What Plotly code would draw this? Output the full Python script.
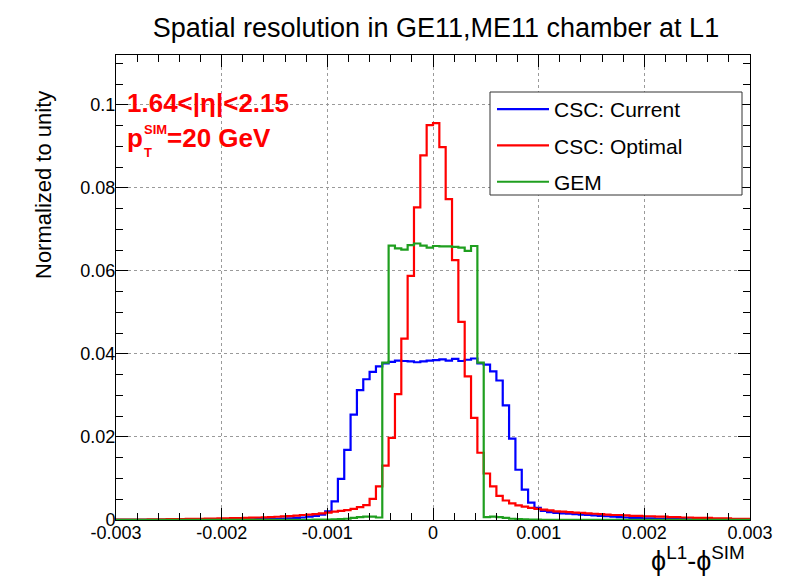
import numpy as np
import plotly.graph_objects as go

# ---------------- data ----------------
x_min, x_max, n_bins = -0.003, 0.003, 100
bin_edges = np.linspace(x_min, x_max, n_bins + 1)

series_names = ["CSC: Current", "CSC: Optimal", "GEM"]

csc_current = [
    0.00002, 0.00002, 0.00002, 0.00003, 0.00003, 0.00003, 0.00004, 0.00004, 0.00005, 0.00005,
    0.00006, 0.00006, 0.00007, 0.00008, 0.00009, 0.0001, 0.0001, 0.00011, 0.00012, 0.00013,
    0.00015, 0.00017, 0.0002, 0.00022, 0.00025, 0.0003, 0.00035, 0.0004, 0.0005, 0.0006,
    0.0008, 0.001, 0.0013, 0.0021, 0.0045, 0.0099, 0.0169, 0.0254, 0.0313, 0.0339,
    0.0357, 0.0370, 0.0377, 0.0381, 0.0384, 0.0383, 0.0382, 0.0380, 0.0382, 0.0384,
    0.0385, 0.0387, 0.0384, 0.0388, 0.0383, 0.0386, 0.0389, 0.0377, 0.0374, 0.0358,
    0.0336, 0.0276, 0.0196, 0.0121, 0.0073, 0.0042, 0.0029, 0.0022, 0.0019, 0.0017,
    0.0016, 0.0015, 0.0014, 0.0013, 0.0012, 0.0011, 0.0010, 0.0009, 0.0008, 0.0007,
    0.0006, 0.0005, 0.0005, 0.0004, 0.0004, 0.0003, 0.0003, 0.00025, 0.0002, 0.0002,
    0.00015, 0.00015, 0.00012, 0.0001, 0.0001, 0.00008, 0.00007, 0.00006, 0.00005, 0.00005,
]

csc_optimal = [
    0.0001, 0.0001, 0.0001, 0.00012, 0.00012, 0.00014, 0.00015, 0.00017, 0.0002, 0.0002,
    0.00022, 0.00025, 0.00027, 0.0003, 0.00032, 0.00035, 0.00038, 0.0004, 0.00043, 0.00047,
    0.0005, 0.00055, 0.0006, 0.00065, 0.0007, 0.00078, 0.00085, 0.00095, 0.00105, 0.0012,
    0.0013, 0.0014, 0.0016, 0.0018, 0.0020, 0.0022, 0.0024, 0.0027, 0.0031, 0.0036,
    0.0051, 0.0081, 0.0131, 0.0198, 0.0303, 0.0437, 0.0588, 0.0753, 0.0878, 0.0951,
    0.0956, 0.0898, 0.0773, 0.0626, 0.0477, 0.0346, 0.0246, 0.0162, 0.0112, 0.0081,
    0.0058, 0.0047, 0.0040, 0.0035, 0.0032, 0.0029, 0.0027, 0.0025, 0.0023, 0.0021,
    0.0020, 0.0019, 0.0018, 0.0017, 0.0016, 0.0015, 0.0014, 0.0013, 0.0012, 0.0012,
    0.0011, 0.0010, 0.0010, 0.0009, 0.0009, 0.0008, 0.0008, 0.0007, 0.0007, 0.0006,
    0.0006, 0.0005, 0.0005, 0.0005, 0.0004, 0.0004, 0.0004, 0.0003, 0.0003, 0.0003,
]

gem = [
    0.00001, 0.00001, 0.00001, 0.00001, 0.00001, 0.00001, 0.00001, 0.00001, 0.00001, 0.00001,
    0.00001, 0.00001, 0.00001, 0.00001, 0.00001, 0.00002, 0.00002, 0.00002, 0.00002, 0.00002,
    0.00002, 0.00002, 0.00003, 0.00003, 0.00003, 0.00003, 0.00004, 0.00004, 0.00004, 0.00005,
    0.00005, 0.00008, 0.0001, 0.00012, 0.00015, 0.0002, 0.0003, 0.0005, 0.0007, 0.0008,
    0.0008, 0.0006, 0.0379, 0.0661, 0.0654, 0.0651, 0.0662, 0.0666, 0.0661, 0.0656,
    0.0660, 0.0659, 0.0659, 0.0658, 0.0656, 0.0648, 0.0660, 0.0379, 0.0007, 0.0008,
    0.0007, 0.0005, 0.0003, 0.0002, 0.00015, 0.0001, 0.00008, 0.00006, 0.00005, 0.00004,
    0.00004, 0.00003, 0.00003, 0.00003, 0.00002, 0.00002, 0.00002, 0.00002, 0.00002, 0.00001,
    0.00001, 0.00001, 0.00001, 0.00001, 0.00001, 0.00001, 0.00001, 0.00001, 0.00001, 0.00001,
    0.00001, 0.00001, 0.00001, 0.00001, 0.00001, 0.00001, 0.00001, 0.00001, 0.00001, 0.00001,
]

x_tick_vals = [-0.003, -0.002, -0.001, 0.0, 0.001, 0.002, 0.003]
x_tick_text = ["-0.003", "-0.002", "-0.001", "0", "0.001", "0.002", "0.003"]
y_tick_vals = [0.0, 0.02, 0.04, 0.06, 0.08, 0.1]
y_tick_text = ["0", "0.02", "0.04", "0.06", "0.08", "0.1"]

title_text = "Spatial resolution in GE11,ME11 chamber at L1"
y_title = "Normalized to unity"
x_title = "\u03d5<sup>L1</sup>-\u03d5<sup>SIM</sup>"
eta_label = "1.64<|\u03b7|<2.15"
pt_label = ["p", "SIM", "T", "=20 GeV"]

# ---------------- figure ----------------
colors = ["#0000ff", "#ff0000", "#1f9f1f"]
FONT = "Liberation Sans, Arial, Helvetica, sans-serif"
RED = "#ff0000"

# the page body has an 8px margin; plot frame in page pixels: x 116..750, y 55..520
OFF = 8
W, H = 787, 581
L_PAGE, R_PAGE, T_PAGE, B_PAGE = 116, 750, 55, 520

fig = go.Figure()
for i, (name, vals) in enumerate(zip(series_names, [csc_current, csc_optimal, gem])):
    fig.add_trace(go.Scatter(
        x=bin_edges,
        y=list(vals) + [vals[-1]],
        mode="lines",
        line=dict(shape="hv", color=colors[i], width=2.2),
        name=name,
        legendgroup=name,
        hoverinfo="skip",
    ))

axis_common = dict(
    showline=True, linecolor="black", linewidth=1, mirror="allticks",
    ticks="inside", ticklen=12, tickwidth=1, tickcolor="black",
    showgrid=True, gridcolor="#9a9a9a", griddash="dot", gridwidth=1,
    zeroline=False, tickfont=dict(size=18, color="black", family=FONT),
    ticklabelstandoff=-4,
)

fig.update_xaxes(
    range=[x_min, x_max], tickmode="array", tickvals=x_tick_vals, ticktext=x_tick_text,
    minor=dict(tickmode="linear", tick0=0, dtick=0.0002, ticks="inside", ticklen=7,
               tickcolor="black", showgrid=False),
    **axis_common,
)
fig.update_yaxes(
    range=[0, 0.112], tickmode="array", tickvals=y_tick_vals, ticktext=y_tick_text,
    minor=dict(tickmode="linear", tick0=0, dtick=0.005, ticks="inside", ticklen=7,
               tickcolor="black", showgrid=False),
    **axis_common,
)


def px_x(p):
    return (p - L_PAGE) / (R_PAGE - L_PAGE)


def px_y(p):
    return (B_PAGE - p) / (B_PAGE - T_PAGE)


fig.update_layout(
    width=W, height=H,
    margin=dict(l=L_PAGE - OFF, r=W - (R_PAGE - OFF), t=T_PAGE - OFF, b=H - (B_PAGE - OFF),
                autoexpand=False),
    paper_bgcolor="white", plot_bgcolor="white",
    font=dict(family=FONT, color="black"),
    title=dict(text=title_text, x=(436 - OFF) / W, xanchor="center", xref="container",
               y=1 - (28 - OFF) / H, yanchor="middle", yref="container",
               font=dict(size=27, color="black", family=FONT)),
    legend=dict(x=px_x(492), y=px_y(89), xanchor="left", yanchor="top",
                borderwidth=0, bgcolor="rgba(0,0,0,0)",
                font=dict(size=21, color="black", family=FONT),
                tracegroupgap=6, itemwidth=52),
    showlegend=True,
)

# legend frame (opaque white box like the original)
fig.add_shape(type="rect", xref="paper", yref="paper",
              x0=px_x(490), x1=px_x(742), y0=px_y(195), y1=px_y(92),
              line=dict(color="#333333", width=1), fillcolor="white", layer="above")

annots = [
    dict(text=y_title, x=px_x(43), y=px_y(185), textangle=-90, xanchor="center", yanchor="middle",
         font=dict(size=22, color="black", family=FONT)),
    dict(text=x_title, x=px_x(746), y=px_y(559), xanchor="right", yanchor="middle",
         font=dict(size=27, color="black", family=FONT)),
    dict(text="<b>" + eta_label + "</b>", x=px_x(126), y=px_y(103), xanchor="left", yanchor="middle",
         font=dict(size=26, color=RED, family=FONT)),
    dict(text="<b>" + pt_label[0] + "</b>", x=px_x(126), y=px_y(138), xanchor="left", yanchor="middle",
         font=dict(size=26, color=RED, family=FONT)),
    dict(text="<b>" + pt_label[1] + "</b>", x=px_x(143), y=px_y(130), xanchor="left", yanchor="middle",
         font=dict(size=13, color=RED, family=FONT)),
    dict(text="<b>" + pt_label[2] + "</b>", x=px_x(143), y=px_y(153), xanchor="left", yanchor="middle",
         font=dict(size=13, color=RED, family=FONT)),
    dict(text="<b>" + pt_label[3] + "</b>", x=px_x(166), y=px_y(138), xanchor="left", yanchor="middle",
         font=dict(size=26, color=RED, family=FONT)),
]
for a in annots:
    fig.add_annotation(xref="paper", yref="paper", showarrow=False, borderpad=0, **a)

fig.write_html("out.html")
